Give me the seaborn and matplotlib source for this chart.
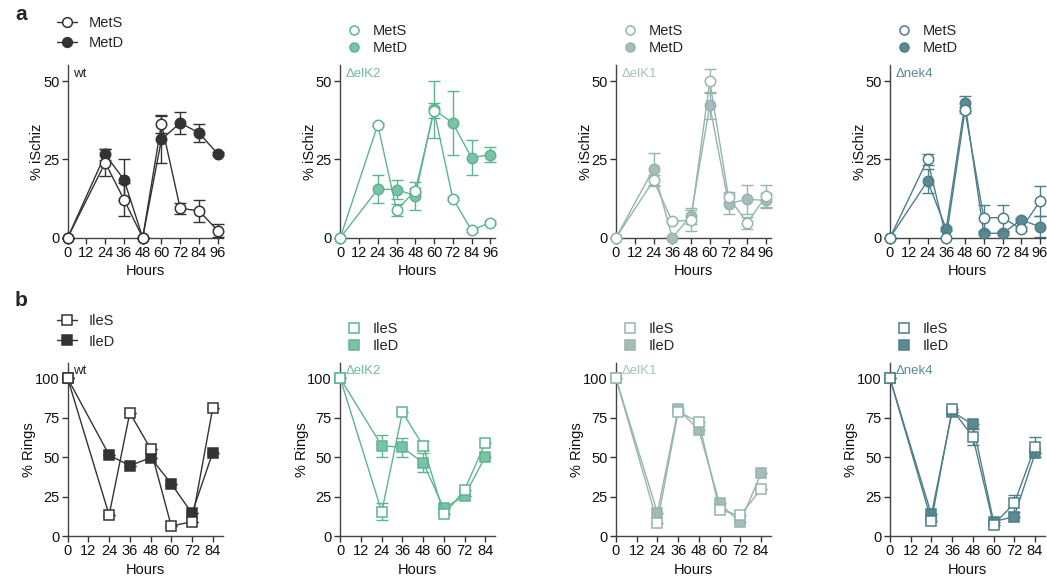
import numpy as np
import pandas as pd
import seaborn as sns
import matplotlib.pyplot as plt
from matplotlib.lines import Line2D

sns.set_theme(style="ticks")
plt.rcParams["font.family"] = ["Liberation Sans", "DejaVu Sans"]
plt.rcParams["axes.linewidth"] = 1.0

# ---------------- data ----------------
strains = ["wt", "ΔelK2", "ΔelK1", "Δnek4"]

hours_met = [0, 24, 36, 48, 60, 72, 84, 96]
met_ticks = [0, 12, 24, 36, 48, 60, 72, 84, 96]

mets_mean = {
    "wt":    [0, 24.0, 12.2, 0, 36.4, 9.4, 8.6, 2.3],
    "ΔelK2": [0, 36.1, 8.8, 15.0, 40.6, 12.5, 2.4, 4.8],
    "ΔelK1": [0, 18.3, 5.2, 5.6, 50.0, 13.0, 4.7, 13.3],
    "Δnek4": [0, 25.0, 0, 40.7, 6.4, 6.4, 2.8, 11.7],
}
mets_err = {
    "wt":    [0, 4.3, 5.3, 0, 2.8, 1.7, 3.5, 2.1],
    "ΔelK2": [0, 0.5, 2.0, 0.8, 2.3, 0.5, 0.5, 0.5],
    "ΔelK1": [0, 1.8, 0.5, 3.4, 3.8, 1.6, 2.0, 3.4],
    "Δnek4": [0, 1.8, 0, 1.0, 4.1, 4.1, 0.5, 4.8],
}
metd_mean = {
    "wt":    [0, 26.6, 18.6, 0, 31.4, 36.7, 33.5, 26.8],
    "ΔelK2": [0, 15.5, 15.4, 13.4, 41.0, 36.6, 25.6, 26.5],
    "ΔelK1": [0, 22.0, 0, 7.0, 42.3, 10.9, 12.3, 11.9],
    "Δnek4": [0, 18.1, 2.8, 43.0, 1.4, 1.4, 5.7, 3.5],
}
metd_err = {
    "wt":    [0, 1.8, 6.4, 0, 7.5, 3.4, 2.8, 0.5],
    "ΔelK2": [0, 4.5, 3.0, 4.5, 9.0, 10.3, 5.7, 2.4],
    "ΔelK1": [0, 5.1, 0, 2.6, 4.4, 3.2, 4.6, 2.5],
    "Δnek4": [0, 3.7, 0.5, 2.4, 0.5, 0.5, 0.5, 3.3],
}

hours_ile = [0, 24, 36, 48, 60, 72, 84]
ile_ticks = [0, 12, 24, 36, 48, 60, 72, 84]

iles_mean = {
    "wt":    [100, 13.3, 78.2, 55.4, 6.3, 9.1, 81.0],
    "ΔelK2": [100, 15.4, 78.6, 57.3, 13.7, 29.2, 59.2],
    "ΔelK1": [100, 8.5, 78.9, 72.3, 16.5, 13.1, 29.8],
    "Δnek4": [100, 9.7, 80.3, 63.0, 7.2, 20.7, 56.7],
}
iles_err = {
    "wt":    [0, 0, 0, 0, 0, 0, 0],
    "ΔelK2": [0, 5.3, 0, 3.0, 0, 0, 0],
    "ΔelK1": [0, 0, 0, 0, 0, 0, 0],
    "Δnek4": [0, 0, 0, 5.0, 0, 5.5, 6.3],
}
iled_mean = {
    "wt":    [100, 51.4, 44.6, 49.7, 33.2, 14.4, 52.9],
    "ΔelK2": [100, 57.3, 56.2, 46.5, 17.5, 25.6, 50.3],
    "ΔelK1": [100, 14.8, 80.5, 67.2, 20.7, 8.7, 39.7],
    "Δnek4": [100, 13.7, 78.9, 70.8, 9.1, 12.3, 52.4],
}
iled_err = {
    "wt":    [0, 0, 0, 0, 0, 0, 0],
    "ΔelK2": [0, 7.0, 6.3, 6.0, 0, 0, 0],
    "ΔelK1": [0, 0, 0, 0, 0, 0, 0],
    "Δnek4": [0, 0, 0, 0, 0, 0, 0],
}

line_col = {"wt": "#333333", "ΔelK2": "#5fb490", "ΔelK1": "#97b4af", "Δnek4": "#4e7e86"}
fill_col = {"wt": "#333333", "ΔelK2": "#7bc3a5", "ΔelK1": "#a6beba", "Δnek4": "#5c8a91"}
title_col = {"wt": "#222222", "ΔelK2": "#6dbd9c", "ΔelK1": "#a6c2be", "Δnek4": "#5a8a92"}

# ---------------- layout ----------------
W, H = 1047, 583
fig = plt.figure(figsize=(W / 100, H / 100), dpi=100)

lefts = [67.7, 340.3, 616.0, 890.0]
ax_w = 155
rows = {"a": (65.0, 237.7), "b": (362.7, 536.0)}


def make_ax(left, top, bottom):
    return fig.add_axes([left / W, 1 - bottom / H, ax_w / W, (bottom - top) / H])


def draw_series(ax, x, y, err, strain, marker, filled, z):
    lc = line_col[strain]
    fc = fill_col[strain] if filled else "white"
    ax.errorbar(x, y, yerr=err, fmt="none", ecolor=lc, elinewidth=1.0,
                capsize=4, capthick=1.0, zorder=z - 0.5, clip_on=False)
    df = pd.DataFrame({"Hours": x, "value": y})
    sns.lineplot(data=df, x="Hours", y="value", ax=ax, color=lc, lw=1.0,
                 marker=marker, markersize=7.5, markerfacecolor=fc,
                 markeredgecolor=lc, markeredgewidth=1.1, clip_on=False,
                 zorder=z, legend=False)


def style_ax(ax, xlim, xticks, ylim, yticks, ylabel, strain):
    ax.set_xlim(*xlim)
    ax.set_ylim(*ylim)
    ax.set_xticks(xticks)
    ax.set_yticks(yticks)
    ax.tick_params(axis="both", labelsize=10.5, length=4.5, width=1.0,
                   color="#333333", pad=1.5, labelcolor="#111111")
    ax.set_xlabel("Hours", fontsize=10.5, labelpad=3, color="#111111")
    ax.set_ylabel(ylabel, fontsize=10.5, labelpad=-1, color="#111111")
    for s in ("top", "right"):
        ax.spines[s].set_visible(False)
    for s in ("left", "bottom"):
        ax.spines[s].set_color("#444444")
    ax.text(0.035, 0.985, strain, transform=ax.transAxes, ha="left", va="top",
            fontsize=9.5, color=title_col[strain])


def add_legend(ax, strain, marker, labels, with_line, anchor_px, top, bottom, left, spacing):
    lc = line_col[strain]
    handles = []
    for filled, lab in zip([False, True], labels):
        fc = fill_col[strain] if filled else "white"
        handles.append(Line2D([], [], color=lc, lw=1.0 if with_line else 0,
                              linestyle="-" if with_line else "none",
                              marker=marker, markersize=7 if with_line else 6.5,
                              markerfacecolor=fc, markeredgecolor=lc,
                              markeredgewidth=1.1, label=lab))
    ax_x = (anchor_px[0] - left) / ax_w
    ax_y = (bottom - anchor_px[1]) / (bottom - top)
    ax.legend(handles=handles, loc="upper left", bbox_to_anchor=(ax_x, ax_y),
              frameon=False, fontsize=10.5, borderpad=0, borderaxespad=0,
              handlelength=1.4 if with_line else 0.9,
              handletextpad=0.75 if with_line else 0.85,
              labelspacing=spacing)


for i, strain in enumerate(strains):
    left = lefts[i]
    # top row: schizont counts
    top, bottom = rows["a"]
    ax = make_ax(left, top, bottom)
    draw_series(ax, hours_met, metd_mean[strain], metd_err[strain], strain, "o", True, 3)
    draw_series(ax, hours_met, mets_mean[strain], mets_err[strain], strain, "o", False, 4)
    style_ax(ax, (0, 99.2), met_ticks, (0, 55.2), [0, 25, 50], "% iSchiz", strain)
    if i == 0:
        add_legend(ax, strain, "o", ["MetS", "MetD"], True, (57, 16),
                   top, bottom, left, 0.4)
    else:
        add_legend(ax, strain, "o", ["MetS", "MetD"], False, (left + 7, 24),
                   top, bottom, left, 0.2)

    # bottom row: ring counts
    top, bottom = rows["b"]
    ax = make_ax(left, top, bottom)
    draw_series(ax, hours_ile, iled_mean[strain], iled_err[strain], strain, "s", True, 3)
    draw_series(ax, hours_ile, iles_mean[strain], iles_err[strain], strain, "s", False, 4)
    style_ax(ax, (0, 89.8), ile_ticks, (0, 110), [0, 25, 50, 75, 100], "% Rings", strain)
    if i == 0:
        add_legend(ax, strain, "s", ["IleS", "IleD"], True, (57, 314),
                   top, bottom, left, 0.45)
    else:
        add_legend(ax, strain, "s", ["IleS", "IleD"], False, (left + 7, 322),
                   top, bottom, left, 0.2)

fig.text(15 / W, 1 - 15 / H, "a", fontsize=15, fontweight="bold", ha="left", va="center")
fig.text(15 / W, 1 - 300 / H, "b", fontsize=15, fontweight="bold", ha="left", va="center")

fig.savefig("out.png", dpi=100)
